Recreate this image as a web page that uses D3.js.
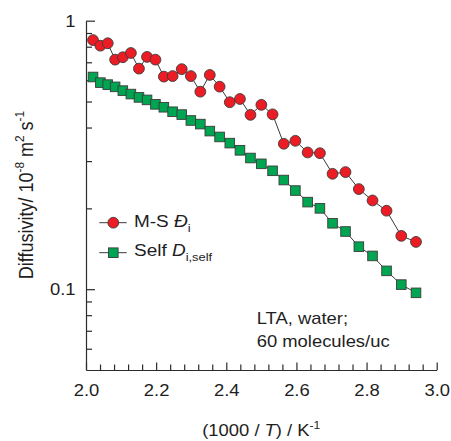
<!DOCTYPE html>
<html><head><meta charset="utf-8">
<script src="https://cdn.jsdelivr.net/npm/d3@7"></script>
<style>
body{margin:0;background:#fff}
svg{display:block}
text{font-family:"Liberation Sans",Arial,Helvetica,sans-serif;fill:#1e1e1e}
</style>
</head><body>
<svg id="c" width="451" height="441"></svg>
<script>
// 1000/T values (K^-1)
const invT = [2.020, 2.041, 2.062, 2.083, 2.105, 2.128, 2.151, 2.174, 2.198, 2.222,
  2.247, 2.273, 2.299, 2.326, 2.353, 2.381, 2.410, 2.439, 2.469, 2.500,
  2.532, 2.564, 2.597, 2.632, 2.667, 2.703, 2.740, 2.778, 2.817, 2.857,
  2.899, 2.941];
// M-S diffusivity, 10^-8 m2/s
const msDiff = [0.847, 0.807, 0.824, 0.716, 0.731, 0.758, 0.663, 0.733, 0.716, 0.619,
  0.622, 0.660, 0.622, 0.544, 0.628, 0.568, 0.497, 0.511, 0.446, 0.486,
  0.448, 0.348, 0.357, 0.323, 0.321, 0.269, 0.273, 0.236, 0.214, 0.196,
  0.158, 0.150];
// Self diffusivity, 10^-8 m2/s
const selfDiff = [0.617, 0.588, 0.578, 0.567, 0.549, 0.533, 0.518, 0.507, 0.488, 0.476,
  0.458, 0.447, 0.425, 0.412, 0.388, 0.369, 0.350, 0.329, 0.308, 0.293,
  0.276, 0.255, 0.233, 0.211, 0.200, 0.176, 0.164, 0.144, 0.133, 0.117,
  0.104, 0.0969];
const xMajorTicks = [2.0, 2.2, 2.4, 2.6, 2.8, 3.0];
const xMinorTicks = [2.04, 2.08, 2.12, 2.16, 2.24, 2.28, 2.32, 2.36, 2.44, 2.48, 2.52, 2.56,
  2.64, 2.68, 2.72, 2.76, 2.84, 2.88, 2.92, 2.96];
const yMajorTicks = [0.1, 1];
const yMinorTicks = [0.06, 0.07, 0.08, 0.09, 0.2, 0.3, 0.4, 0.5, 0.6, 0.7, 0.8, 0.9];

const SX = 1.15; // horizontal text stretch
const svg = d3.select("#c");
const x = d3.scaleLinear().domain([2.0, 3.0]).range([86, 436.7]);
const y = d3.scaleLog().domain([0.05, 1]).range([370, 20.7]);
const axisColor = "#2b2b2b";

// X axis
const gx = svg.append("g").attr("transform", "translate(0,370)");
gx.call(d3.axisBottom(x).tickValues(xMinorTicks).tickFormat("").tickSizeInner(-5.5).tickSizeOuter(0));
gx.select(".domain").remove();
const gx2 = svg.append("g").attr("transform", "translate(0,370)");
gx2.call(d3.axisBottom(x).tickValues(xMajorTicks).tickFormat(d3.format(".1f")).tickSizeInner(-7.5).tickSizeOuter(0));
gx2.selectAll("text").attr("y", null).attr("dy", null)
  .attr("transform", `translate(0,25.5) scale(${SX},1)`)
  .style("font-size", "16px").attr("fill", "#1e1e1e");

// Y axis
const gy = svg.append("g").attr("transform", "translate(86,0)");
gy.call(d3.axisLeft(y).tickValues(yMinorTicks).tickFormat("").tickSizeInner(-6).tickSizeOuter(0));
gy.select(".domain").remove();
const gy2 = svg.append("g").attr("transform", "translate(86,0)");
gy2.call(d3.axisLeft(y).tickValues(yMajorTicks).tickFormat(d => d === 1 ? "1" : "0.1").tickSizeInner(-9).tickSizeOuter(0));
gy2.selectAll("text").attr("x", null).attr("dy", null)
  .attr("transform", `translate(-10.5,5.8) scale(${SX},1)`)
  .style("font-size", "16px").attr("fill", "#1e1e1e");

svg.selectAll(".domain, .tick line").attr("stroke", axisColor).attr("stroke-width", 1.2);
svg.selectAll(".tick text").attr("font-family", null);

// Lines
const line = d3.line().x((d, i) => x(invT[i])).y(d => y(d));
svg.append("path").datum(msDiff).attr("d", line).attr("fill", "none").attr("stroke", "#3a3a3a").attr("stroke-width", 1);
svg.append("path").datum(selfDiff).attr("d", line).attr("fill", "none").attr("stroke", "#3a3a3a").attr("stroke-width", 1);

const red = "#ec1c24", green = "#00a551", mstroke = "#3b3b3b";
const sq = 9.6;
svg.append("g").selectAll("rect").data(selfDiff).join("rect")
  .attr("x", (d, i) => x(invT[i]) - sq / 2).attr("y", d => y(d) - sq / 2)
  .attr("width", sq).attr("height", sq)
  .attr("fill", green).attr("stroke", mstroke).attr("stroke-width", 0.9);
svg.append("g").selectAll("circle").data(msDiff).join("circle")
  .attr("cx", (d, i) => x(invT[i])).attr("cy", d => y(d)).attr("r", 5.4)
  .attr("fill", red).attr("stroke", mstroke).attr("stroke-width", 0.9);

// Rich text helper
function rich(g, parts, size) {
  const t = g.append("text").style("font-size", size + "px");
  let shift = 0;
  parts.forEach(p => {
    const ts = t.append("tspan").text(p.t);
    let target = 0;
    if (p.s === "sup") { target = -0.42 * size; ts.style("font-size", (size * 0.66) + "px"); }
    if (p.s === "sub") { target = 0.3 * size; ts.style("font-size", (size * 0.68) + "px"); }
    if (p.s === "i") ts.style("font-style", "italic");
    if (target !== shift) { ts.attr("dy", target - shift); shift = target; }
  });
  return t;
}

// Legend
const lg = svg.append("g");
lg.append("line").attr("x1", 99.3).attr("x2", 126.7).attr("y1", 222.7).attr("y2", 222.7).attr("stroke", "#3a3a3a").attr("stroke-width", 1);
lg.append("circle").attr("cx", 113.3).attr("cy", 222.7).attr("r", 5.4).attr("fill", red).attr("stroke", mstroke).attr("stroke-width", 0.9);
lg.append("line").attr("x1", 99.3).attr("x2", 126.7).attr("y1", 252.7).attr("y2", 252.7).attr("stroke", "#3a3a3a").attr("stroke-width", 1);
lg.append("rect").attr("x", 113.3 - sq / 2).attr("y", 252.7 - sq / 2).attr("width", sq).attr("height", sq).attr("fill", green).attr("stroke", mstroke).attr("stroke-width", 0.9);
rich(lg, [{t: "M-S "}, {t: "Đ", s: "i"}, {t: "i", s: "sub"}], 16.5)
  .attr("transform", `translate(134,227.3) scale(${SX},1)`);
rich(lg, [{t: "Self "}, {t: "D", s: "i"}, {t: "i,self", s: "sub"}], 16.5)
  .attr("transform", `translate(134,256) scale(${SX},1)`);

// Annotation
const an = svg.append("g");
an.append("text").text("LTA, water;").style("font-size", "16px").attr("transform", `translate(256.7,324) scale(${SX},1)`);
an.append("text").text("60 molecules/uc").style("font-size", "16px").attr("transform", `translate(256.7,346.7) scale(${SX},1)`);

// Axis titles
rich(svg, [{t: "(1000 / "}, {t: "T", s: "i"}, {t: ") / K"}, {t: "-1", s: "sup"}], 16)
  .attr("text-anchor", "middle").attr("transform", `translate(261.3,436) scale(${SX},1)`);
rich(svg, [{t: "Diffusivity/ 10"}, {t: "-8", s: "sup"}, {t: " m"}, {t: "2", s: "sup"}, {t: " s"}, {t: "-1", s: "sup"}], 18)
  .attr("text-anchor", "middle").attr("transform", `translate(32.5,195) scale(${SX},1) rotate(-90)`);
</script>
</body></html>
